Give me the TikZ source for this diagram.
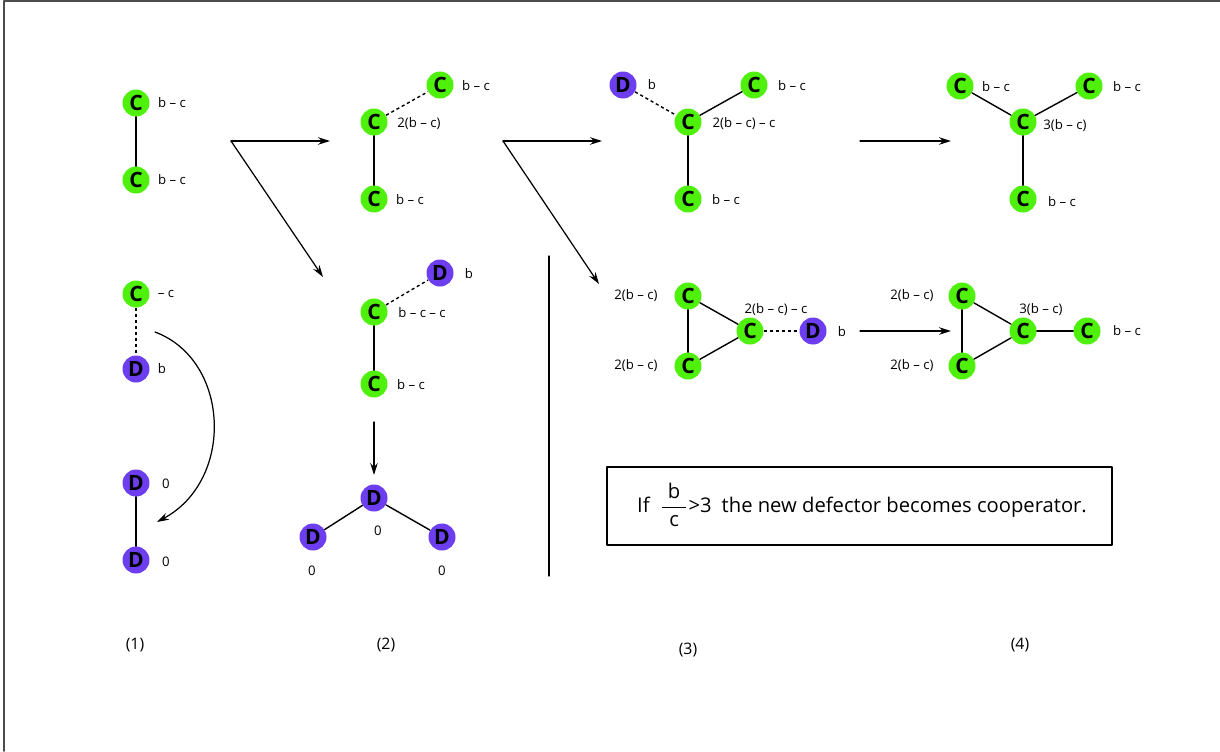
\documentclass[tikz,border=0pt]{standalone}
\usepackage{amsmath}
\usepackage{fontspec}
\setmainfont{Open Sans}
\usetikzlibrary{arrows.meta}

\definecolor{coopgreen}{RGB}{78,240,12}
\definecolor{defviolet}{RGB}{108,62,240}

\begin{document}
\begin{tikzpicture}[
		x=0.02cm,
		y=-0.02cm,
		line cap=round,
		line join=round,
		coop/.style={
			circle,
			fill=coopgreen,
			inner sep=0pt,
			minimum size=0.54cm,
			font=\fontsize{12}{12}\selectfont\bfseries
		},
		defect/.style={
			circle,
			fill=defviolet,
			inner sep=0pt,
			minimum size=0.54cm,
			font=\fontsize{12}{12}\selectfont\bfseries
		},
		payoff/.style={
			inner sep=0pt,
			font=\fontsize{7.5}{9}\selectfont
		},
		link/.style={
			draw=black,
			line width=0.8pt
		},
		tie/.style={
			draw=black,
			line width=0.8pt,
			dash pattern=on 1.8pt off 1.6pt,
			line cap=butt
		},
		flow/.style={
			draw=black,
			line width=0.7pt,
			-{Stealth[length=2.4mm,width=1.5mm]}
		}
		]
		
		\useasboundingbox (0,0) rectangle (1220,751);
		
		% frame
		\draw[black!70,line width=1.1pt] (4,751) -- (4,1) -- (1220,1);
		
		% panel (1)
		\node[coop]   (c1a) at (136,103) {C};
		\node[coop]   (c1b) at (136,180) {C};
		\node[coop]   (c1c) at (136,294) {C};
		\node[defect] (d1a) at (136,369) {D};
		\node[defect] (d1b) at (136,483) {D};
		\node[defect] (d1c) at (136,560) {D};
		
		\draw[link] (c1a) -- (c1b);
		\draw[tie]  (c1c) -- (d1a);
		\draw[link] (d1b) -- (d1c);
		
		\node[payoff] (p1a) at (172,103) {b -- c};
		\node[payoff] (p1b) at (172,180) {b -- c};
		\node[payoff] (p1c) at (166,294) {-- c};
		\node[payoff] (p1d) at (162,369) {b};
		\node[payoff] (p1e) at (166,484) {0};
		\node[payoff] (p1f) at (166,562) {0};
		
		\coordinate (bendS) at (155,332);
		\coordinate (bendE) at (157,522);
		\draw[flow] (bendS) .. controls (230,360) and (235,480) .. (bendE);
		
		% forks between panels
		\coordinate (forkA)  at (231,141);
		\coordinate (forkAr) at (330,141);
		\coordinate (forkAd) at (323,277);
		\draw[flow] (forkA) -- (forkAr);
		\draw[flow] (forkA) -- (forkAd);
		
		\coordinate (forkB)  at (503,141);
		\coordinate (forkBr) at (602,141);
		\coordinate (forkBd) at (599,284);
		\draw[flow] (forkB) -- (forkBr);
		\draw[flow] (forkB) -- (forkBd);
		
		% panel (2)
		\node[coop]   (c2a) at (440,85)  {C};
		\node[coop]   (c2b) at (374,122) {C};
		\node[coop]   (c2c) at (374,199) {C};
		\draw[tie]  (c2b) -- (c2a);
		\draw[link] (c2b) -- (c2c);
		\node[payoff] (p2a) at (476,86)  {b -- c};
		\node[payoff] (p2b) at (419,124) {2(b -- c)};
		\node[payoff] (p2c) at (410,200) {b -- c};
		
		\node[defect] (d2a) at (440,273) {D};
		\node[coop]   (c2d) at (374,312) {C};
		\node[coop]   (c2e) at (374,384) {C};
		\draw[tie]  (c2d) -- (d2a);
		\draw[link] (c2d) -- (c2e);
		\node[payoff] (p2d) at (469,274) {b};
		\node[payoff] (p2e) at (422,313) {b -- c -- c};
		\node[payoff] (p2f) at (411,385) {b -- c};
		
		\coordinate (downS) at (374,422);
		\coordinate (downE) at (374,475);
		\draw[flow] (downS) -- (downE);
		
		\node[defect] (d2b) at (374,498) {D};
		\node[defect] (d2c) at (313,537) {D};
		\node[defect] (d2d) at (442,537) {D};
		\draw[link] (d2b) -- (d2c);
		\draw[link] (d2b) -- (d2d);
		\node[payoff] (p2g) at (378,531) {0};
		\node[payoff] (p2h) at (312,571) {0};
		\node[payoff] (p2i) at (442,571) {0};
		
		% divider
		\coordinate (divT) at (549,256);
		\coordinate (divB) at (549,576);
		\draw[line width=0.7pt] (divT) -- (divB);
		
		% panel (3)
		\node[defect] (d3a) at (623,85)  {D};
		\node[coop]   (c3a) at (754,85)  {C};
		\node[coop]   (c3b) at (688,122) {C};
		\node[coop]   (c3c) at (688,199) {C};
		\draw[tie]  (d3a) -- (c3b);
		\draw[link] (c3a) -- (c3b);
		\draw[link] (c3b) -- (c3c);
		\node[payoff] (p3a) at (652,85)  {b};
		\node[payoff] (p3b) at (792,86)  {b -- c};
		\node[payoff] (p3c) at (744,124) {2(b -- c) -- c};
		\node[payoff] (p3d) at (726,200) {b -- c};
		
		\node[coop]   (c3d) at (688,296) {C};
		\node[coop]   (c3e) at (688,366) {C};
		\node[coop]   (c3f) at (750,331) {C};
		\node[defect] (d3b) at (813,331) {D};
		\draw[link] (c3d) -- (c3e);
		\draw[link] (c3d) -- (c3f);
		\draw[link] (c3e) -- (c3f);
		\draw[tie]  (c3f) -- (d3b);
		\node[payoff] (p3e) at (636,296) {2(b -- c)};
		\node[payoff] (p3f) at (636,366) {2(b -- c)};
		\node[payoff] (p3g) at (776,310) {2(b -- c) -- c};
		\node[payoff] (p3h) at (842,332) {b};
		
		% steps to panel (4)
		\coordinate (stepAs) at (860,141);
		\coordinate (stepAe) at (951,141);
		\draw[flow] (stepAs) -- (stepAe);
		\coordinate (stepBs) at (860,331);
		\coordinate (stepBe) at (951,331);
		\draw[flow] (stepBs) -- (stepBe);
		
		% panel (4)
		\node[coop] (c4a) at (960,86)   {C};
		\node[coop] (c4b) at (1089,86)  {C};
		\node[coop] (c4c) at (1023,122) {C};
		\node[coop] (c4d) at (1023,199) {C};
		\draw[link] (c4a) -- (c4c);
		\draw[link] (c4b) -- (c4c);
		\draw[link] (c4c) -- (c4d);
		\node[payoff] (p4a) at (996,87)   {b -- c};
		\node[payoff] (p4b) at (1127,87)  {b -- c};
		\node[payoff] (p4c) at (1065,126) {3(b -- c)};
		\node[payoff] (p4d) at (1062,202) {b -- c};
		
		\node[coop] (c4e) at (962,296)  {C};
		\node[coop] (c4f) at (962,366)  {C};
		\node[coop] (c4g) at (1023,331) {C};
		\node[coop] (c4h) at (1087,331) {C};
		\draw[link] (c4e) -- (c4f);
		\draw[link] (c4e) -- (c4g);
		\draw[link] (c4f) -- (c4g);
		\draw[link] (c4g) -- (c4h);
		\node[payoff] (p4e) at (912,296)  {2(b -- c)};
		\node[payoff] (p4f) at (912,366)  {2(b -- c)};
		\node[payoff] (p4g) at (1041,310) {3(b -- c)};
		\node[payoff] (p4h) at (1127,331) {b -- c};
		
		% condition box
		\draw[line width=0.7pt] (607,467) rectangle (1112,545);
		\node[font=\fontsize{11.5}{13}\selectfont] (rule) at (862,505)
			{If\enspace $\dfrac{\hspace{0.3em}\text{b}\hspace{0.3em}}{\hspace{0.3em}\text{c}\hspace{0.3em}}$>3\enspace the new defector becomes cooperator.};
		
		% panel numbers
		\node[font=\fontsize{9}{11}\selectfont] (n1) at (135,645)  {(1)};
		\node[font=\fontsize{9}{11}\selectfont] (n2) at (386,645)  {(2)};
		\node[font=\fontsize{9}{11}\selectfont] (n3) at (688,650)  {(3)};
		\node[font=\fontsize{9}{11}\selectfont] (n4) at (1020,645) {(4)};
	\end{tikzpicture}
\end{document}
